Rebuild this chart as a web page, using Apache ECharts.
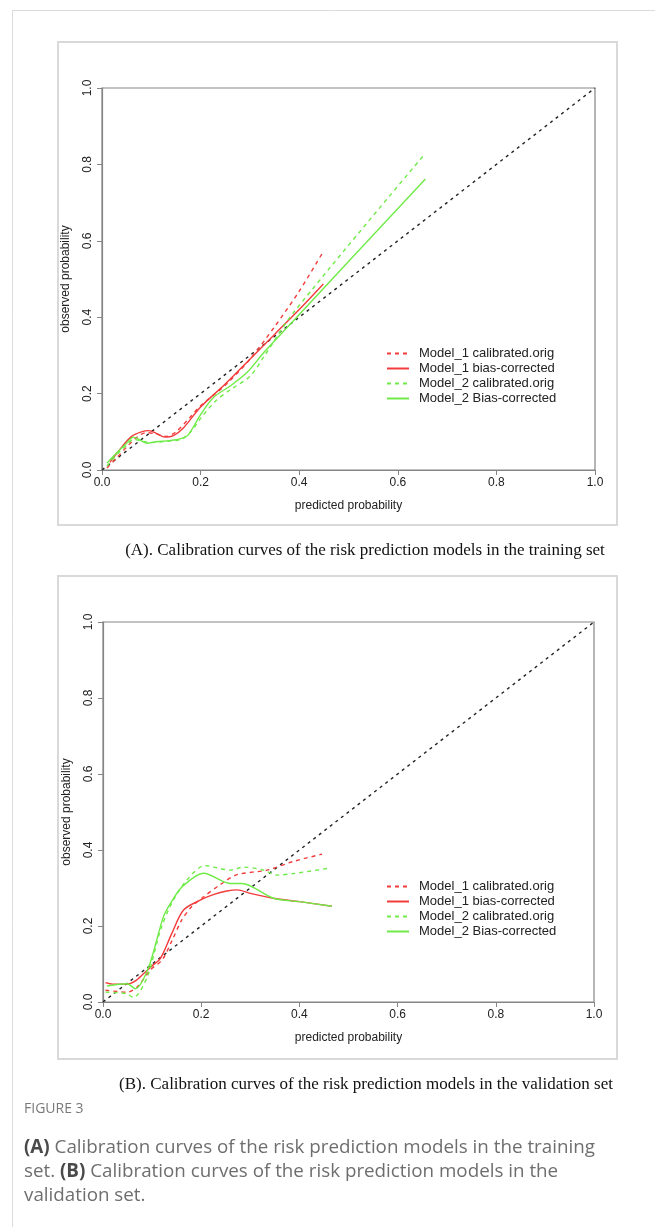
<!DOCTYPE html>
<html>
<head>
<meta charset="utf-8">
<script src="https://cdn.jsdelivr.net/npm/echarts@6/dist/echarts.min.js"></script>
<style>
  html, body { margin: 0; padding: 0; background: #fff; }
  #chart { width: 655px; height: 1227px; }
</style>
</head>
<body>
<div id="chart"></div>
<script>
var chartDom = document.getElementById('chart');
var myChart = echarts.init(chartDom);
var option;

// series names (same in both panels)
var seriesNames = ['Model_1 calibrated.orig', 'Model_1 bias-corrected', 'Model_2 calibrated.orig', 'Model_2 Bias-corrected'];
var tickValues = [0, 0.2, 0.4, 0.6, 0.8, 1.0];
var diagonal = [[0, 0], [1, 1]];

// (A) training set, [predicted, observed]
var trainM1Orig = [[0.01,0.005],[0.03,0.032],[0.05,0.06],[0.07,0.085],[0.09,0.098],[0.11,0.094],[0.13,0.088],[0.15,0.1],[0.18,0.14],[0.2,0.168],[0.25,0.222],[0.3,0.29],[0.35,0.375],[0.4,0.468],[0.449,0.572]];
var trainM1Bias = [[0.016,0.02],[0.04,0.06],[0.06,0.088],[0.08,0.1],[0.095,0.103],[0.11,0.096],[0.128,0.086],[0.145,0.09],[0.165,0.11],[0.2,0.165],[0.25,0.225],[0.3,0.29],[0.35,0.355],[0.4,0.42],[0.449,0.487]];
var trainM2Orig = [[0.01,0.01],[0.03,0.04],[0.05,0.065],[0.064,0.08],[0.08,0.076],[0.1,0.072],[0.13,0.075],[0.16,0.08],[0.18,0.1],[0.2,0.135],[0.23,0.18],[0.26,0.21],[0.3,0.245],[0.33,0.3],[0.389,0.413],[0.652,0.823]];
var trainM2Bias = [[0.01,0.018],[0.03,0.045],[0.05,0.07],[0.064,0.086],[0.075,0.08],[0.091,0.07],[0.11,0.074],[0.138,0.077],[0.16,0.082],[0.175,0.092],[0.2,0.145],[0.226,0.19],[0.26,0.22],[0.294,0.255],[0.33,0.31],[0.395,0.4],[0.656,0.762]];

// (B) validation set
var validM1Orig = [[0.005,0.031],[0.049,0.026],[0.07,0.04],[0.096,0.084],[0.12,0.11],[0.14,0.16],[0.16,0.215],[0.18,0.25],[0.205,0.277],[0.24,0.31],[0.273,0.335],[0.334,0.347],[0.388,0.37],[0.446,0.389]];
var validM1Bias = [[0.005,0.051],[0.02,0.047],[0.049,0.047],[0.065,0.055],[0.083,0.075],[0.1,0.095],[0.117,0.115],[0.14,0.18],[0.164,0.242],[0.198,0.268],[0.226,0.283],[0.252,0.292],[0.273,0.295],[0.3,0.286],[0.347,0.273],[0.401,0.264],[0.466,0.252]];
var validM2Orig = [[0.005,0.026],[0.047,0.022],[0.062,0.012],[0.09,0.066],[0.117,0.189],[0.14,0.26],[0.171,0.321],[0.208,0.359],[0.259,0.347],[0.286,0.355],[0.327,0.347],[0.354,0.334],[0.388,0.338],[0.459,0.352]];
var validM2Bias = [[0.008,0.042],[0.049,0.048],[0.066,0.035],[0.093,0.092],[0.123,0.224],[0.14,0.265],[0.161,0.303],[0.205,0.339],[0.259,0.312],[0.283,0.312],[0.347,0.273],[0.4,0.264],[0.466,0.252]];

var RED = '#f23b3b';
var GREEN = '#6feb48';
var AXIS_GRAY = '#858585';
var FONT = 'Liberation Sans, Arial, sans-serif';

function curve(name, data, color, dashed, idx) {
  return {
    name: name,
    type: 'line',
    xAxisIndex: idx,
    yAxisIndex: idx,
    data: data,
    symbol: 'none',
    smooth: 0.3,
    silent: true,
    lineStyle: { color: color, width: 1.4, type: dashed ? [4, 4] : 'solid' },
    itemStyle: { color: color },
    z: 3
  };
}

function diagSeries(idx) {
  return {
    name: 'ideal',
    type: 'line',
    xAxisIndex: idx,
    yAxisIndex: idx,
    data: diagonal,
    symbol: 'none',
    silent: true,
    lineStyle: { color: '#222', width: 1.4, type: [3, 4] },
    z: 2
  };
}

function xAxisFor(idx) {
  return {
    type: 'value', gridIndex: idx, min: 0, max: 1, interval: 0.2,
    name: 'predicted probability', nameLocation: 'middle', nameGap: 30,
    nameTextStyle: { color: '#222', fontSize: 12, fontFamily: FONT },
    axisLine: { show: true, lineStyle: { color: AXIS_GRAY, width: 1.2 } },
    axisTick: { show: true, inside: false, length: 5, lineStyle: { color: AXIS_GRAY } },
    axisLabel: { color: '#222', fontSize: 12, fontFamily: FONT, margin: 7,
      formatter: function (v) { return v.toFixed(1); } },
    splitLine: { show: false }
  };
}

function yAxisFor(idx) {
  return {
    type: 'value', gridIndex: idx, min: 0, max: 1, interval: 0.2,
    name: 'observed probability', nameLocation: 'middle', nameGap: 30, nameRotate: 90,
    nameTextStyle: { color: '#222', fontSize: 12, fontFamily: FONT },
    axisLine: { show: true, lineStyle: { color: AXIS_GRAY, width: 1.2 } },
    axisTick: { show: true, inside: false, length: 5, lineStyle: { color: AXIS_GRAY } },
    axisLabel: { color: '#222', fontSize: 12, fontFamily: FONT, margin: 8, rotate: 90,
      formatter: function (v) { return v.toFixed(1); } },
    splitLine: { show: false }
  };
}

function legendFor(top) {
  return {
    data: seriesNames,
    orient: 'vertical',
    left: 381,
    top: top,
    itemWidth: 22,
    itemHeight: 10,
    itemGap: 2,
    selectedMode: false,
    itemStyle: { opacity: 0 },
    textStyle: { color: '#222', fontSize: 13, fontFamily: FONT, padding: [0, 0, 0, 5] }
  };
}

option = {
  animation: false,
  backgroundColor: '#fff',
  grid: [
    { left: 102, top: 88, width: 493, height: 382, show: true, borderColor: AXIS_GRAY, borderWidth: 1.2 },
    { left: 103, top: 622, width: 491, height: 380, show: true, borderColor: AXIS_GRAY, borderWidth: 1.2 }
  ],
  xAxis: [xAxisFor(0), xAxisFor(1)],
  yAxis: [yAxisFor(0), yAxisFor(1)],
  legend: [legendFor(342), legendFor(875)],
  series: [
    diagSeries(0),
    curve(seriesNames[0], trainM1Orig, RED, true, 0),
    curve(seriesNames[1], trainM1Bias, RED, false, 0),
    curve(seriesNames[2], trainM2Orig, GREEN, true, 0),
    curve(seriesNames[3], trainM2Bias, GREEN, false, 0),
    diagSeries(1),
    curve(seriesNames[0], validM1Orig, RED, true, 1),
    curve(seriesNames[1], validM1Bias, RED, false, 1),
    curve(seriesNames[2], validM2Orig, GREEN, true, 1),
    curve(seriesNames[3], validM2Bias, GREEN, false, 1)
  ],
  graphic: [
    // page borders
    { type: 'line', shape: { x1: 12.5, y1: 10, x2: 12.5, y2: 1227 }, style: { stroke: '#dcdcdc', lineWidth: 1 }, silent: true },
    { type: 'line', shape: { x1: 12, y1: 10.5, x2: 655, y2: 10.5 }, style: { stroke: '#dcdcdc', lineWidth: 1 }, silent: true },
    // panel frames
    { type: 'rect', shape: { x: 58, y: 42, width: 559, height: 483 }, style: { fill: 'none', stroke: '#d9d9d9', lineWidth: 2 }, silent: true, z: -1 },
    { type: 'rect', shape: { x: 58, y: 576, width: 559, height: 483 }, style: { fill: 'none', stroke: '#d9d9d9', lineWidth: 2 }, silent: true, z: -1 },
    // panel captions
    { type: 'text', x: 365, y: 542, silent: true,
      style: { text: '(A). Calibration curves of the risk prediction models in the training set', fill: '#111',
        align: 'center', font: '17px "Liberation Serif", "Times New Roman", serif' } },
    { type: 'text', x: 366, y: 1076, silent: true,
      style: { text: '(B). Calibration curves of the risk prediction models in the validation set', fill: '#111',
        align: 'center', font: '17px "Liberation Serif", "Times New Roman", serif' } },
    // figure caption
    { type: 'text', x: 24, y: 1102, silent: true,
      style: { text: 'FIGURE 3', fill: '#7a7a7a', font: '14px "Open Sans", sans-serif' } },
    { type: 'text', x: 24, y: 1136, silent: true,
      style: {
        text: '{b|(A)} Calibration curves of the risk prediction models in the training\nset. {b|(B)} Calibration curves of the risk prediction models in the\nvalidation set.',
        fill: '#6e6e6e', font: '18.8px "Open Sans", sans-serif', lineHeight: 24,
        rich: { b: { fontWeight: 'bold', fill: '#4a4a4a', fontSize: 18.8, fontFamily: 'Open Sans', lineHeight: 24 } }
      } }
  ]
};

myChart.setOption(option);
</script>
</body>
</html>
